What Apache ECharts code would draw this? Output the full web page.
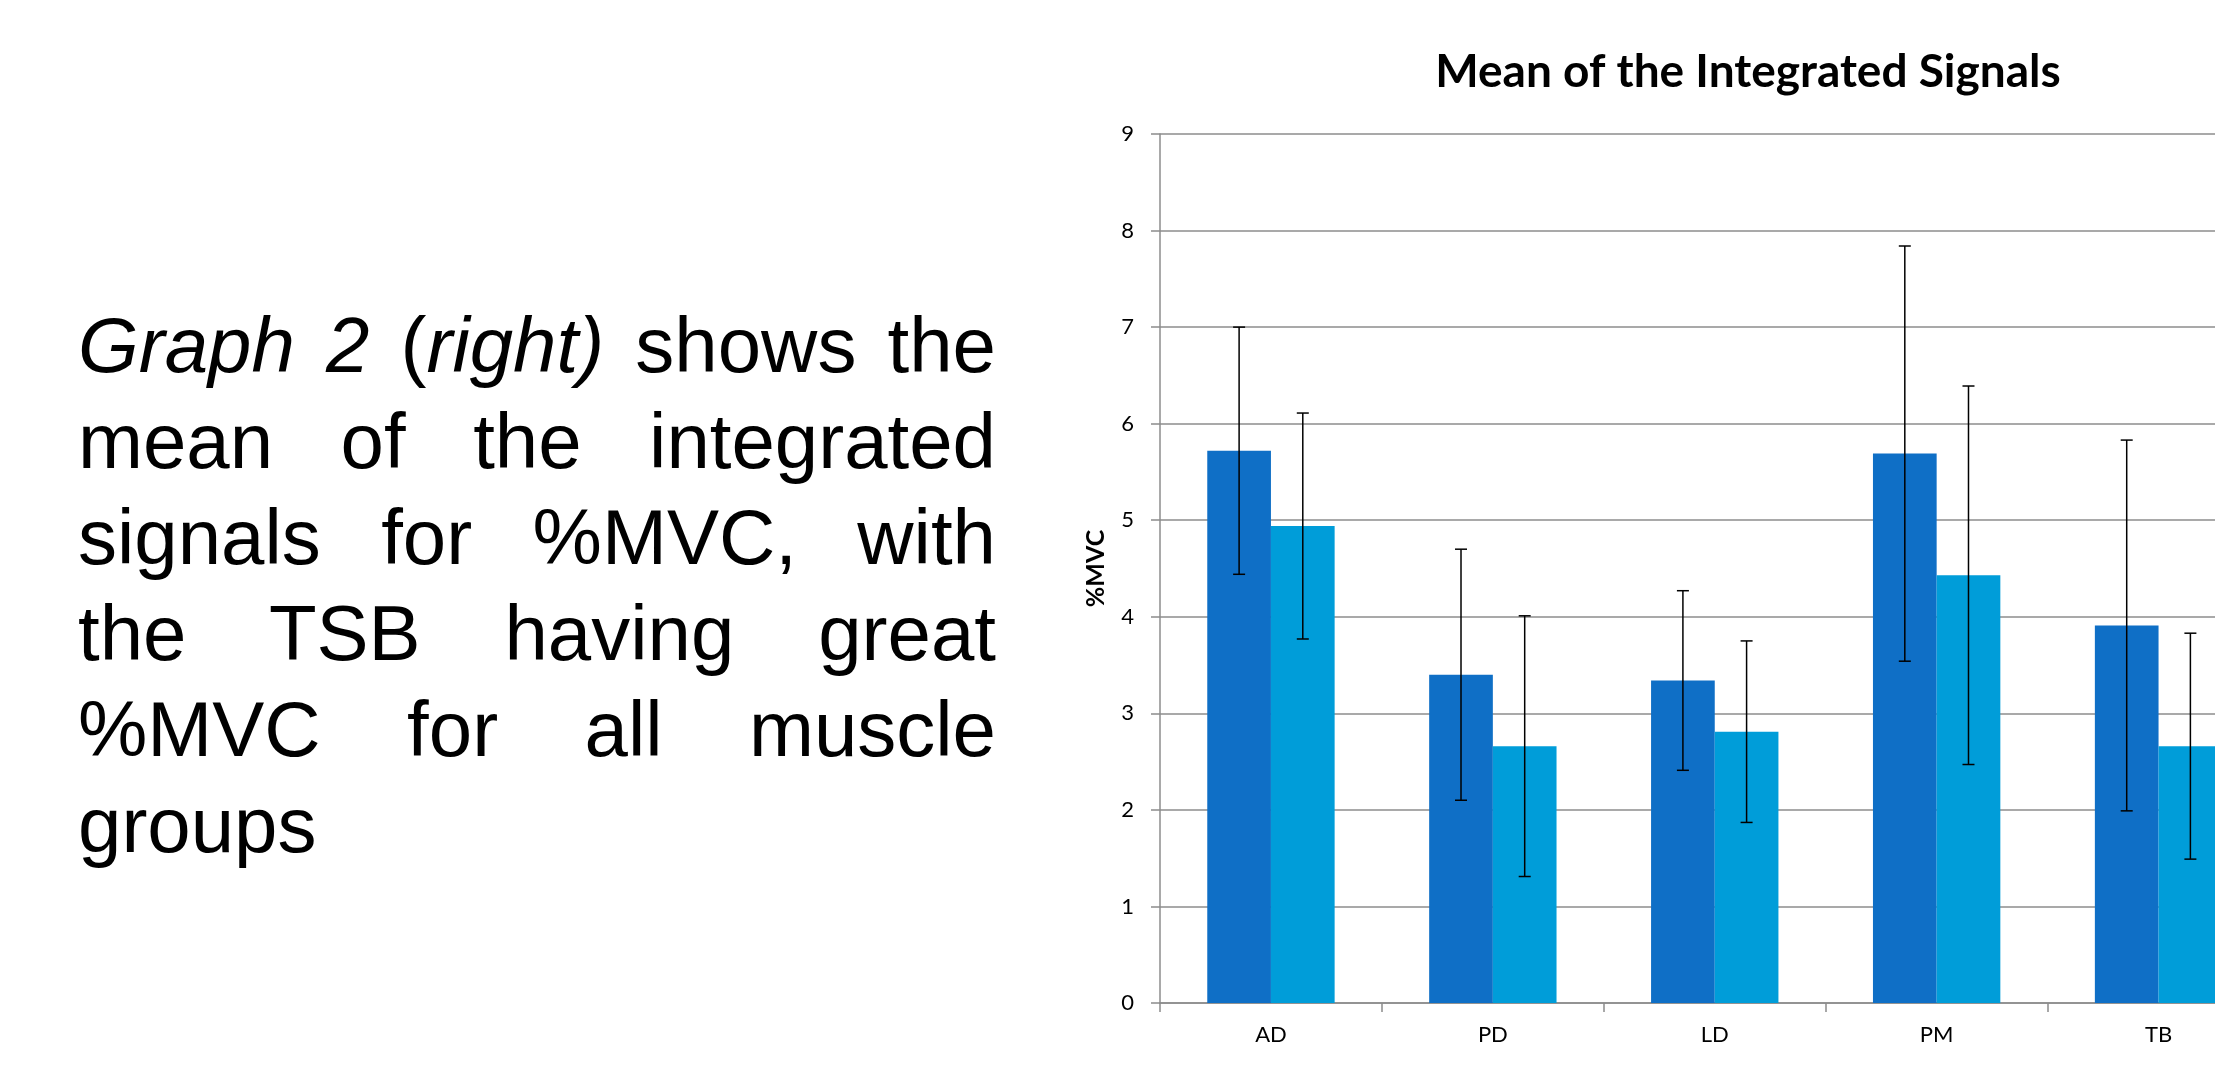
<!DOCTYPE html>
<html>
<head>
<meta charset="utf-8">
<script src="https://cdn.jsdelivr.net/npm/echarts@6/dist/echarts.min.js"></script>
<style>
  html, body { margin: 0; padding: 0; background: #fff; overflow: hidden; width: 2215px; height: 1067px; }
  #chart { position: absolute; left: 0; top: 0; width: 2300px; height: 1067px; }
  #desc { position: absolute; left: 78px; top: 297px; width: 918px; font-family: "Liberation Sans", Arial, sans-serif; font-size: 78px; line-height: 96px; color: #000; }
  #desc div { text-align: justify; text-align-last: justify; white-space: nowrap; }
  #desc div.last { text-align-last: left; }
</style>
</head>
<body>
<div id="chart"></div>
<div id="desc">
  <div><i>Graph 2</i> (<i>right)</i> shows the</div>
  <div>mean of the integrated</div>
  <div>signals for %MVC, with</div>
  <div>the TSB having great</div>
  <div>%MVC for all muscle</div>
  <div class="last">groups</div>
</div>
<script>
const categories = ['AD', 'PD', 'LD', 'PM', 'TB'];
const meanA = [5.72, 3.40, 3.34, 5.69, 3.91];
const sdA   = [1.28, 1.30, 0.93, 2.15, 1.92];
const meanB = [4.94, 2.66, 2.81, 4.43, 2.66];
const sdB   = [1.17, 1.35, 0.94, 1.96, 1.17];
const yTicks = [0, 1, 2, 3, 4, 5, 6, 7, 8, 9];

const CAT_GAP = 0.426;

function errData(mean, sd) {
  return mean.map((m, i) => [i, m - sd[i], m + sd[i]]);
}
function errSeries(mean, sd, side) {
  return {
    type: 'custom',
    z: 10,
    data: errData(mean, sd),
    renderItem: function (params, api) {
      const idx = api.value(0);
      const lo = api.coord([idx, api.value(1)]);
      const hi = api.coord([idx, api.value(2)]);
      const band = api.size([1, 0])[0];
      const bw = band * (1 - CAT_GAP) / 2;
      const x = lo[0] + side * bw / 2;
      const cap = 6;
      const st = { stroke: '#000', lineWidth: 1.5 };
      return {
        type: 'group',
        children: [
          { type: 'line', shape: { x1: x, y1: lo[1], x2: x, y2: hi[1] }, style: st },
          { type: 'line', shape: { x1: x - cap, y1: lo[1], x2: x + cap, y2: lo[1] }, style: st },
          { type: 'line', shape: { x1: x - cap, y1: hi[1], x2: x + cap, y2: hi[1] }, style: st }
        ]
      };
    }
  };
}

const chart = echarts.init(document.getElementById('chart'), null, { renderer: 'canvas' });
chart.setOption({
  animation: false,
  title: {
    text: 'Mean of the Integrated Signals',
    left: 1743,
    textAlign: 'center',
    top: 44,
    textStyle: { fontFamily: 'Lato', fontWeight: 'bold', fontSize: 46, color: '#000' }
  },
  grid: { left: 1160, top: 134, width: 1109.5, height: 869, containLabel: false },
  xAxis: {
    type: 'category',
    data: categories,
    axisLine: { lineStyle: { color: '#8c8c8c', width: 1.5 } },
    axisTick: { show: true, length: 9, lineStyle: { color: '#8c8c8c', width: 1.5 } },
    axisLabel: { margin: 21, fontFamily: 'Lato', fontSize: 22, color: '#000' }
  },
  yAxis: {
    type: 'value',
    min: 0, max: 9, interval: 1,
    name: '%MVC',
    nameLocation: 'middle',
    nameGap: 52,
    nameRotate: 90,
    nameTextStyle: { fontFamily: 'Lato', fontWeight: 'bold', fontSize: 25, color: '#000' },
    axisLine: { show: true, lineStyle: { color: '#8c8c8c', width: 1.5 } },
    axisTick: { show: true, length: 9, lineStyle: { color: '#8c8c8c', width: 1.5 } },
    axisLabel: { margin: 26, fontFamily: 'Lato', fontSize: 22, color: '#000',
      formatter: v => yTicks.includes(v) ? String(v) : '' },
    splitLine: { lineStyle: { color: '#8c8c8c', width: 1.5 } }
  },
  series: [
    { type: 'bar', data: meanA, barGap: '0%', barCategoryGap: (CAT_GAP * 100) + '%',
      itemStyle: { color: '#0F6FC6' } },
    { type: 'bar', data: meanB, barGap: '0%', barCategoryGap: (CAT_GAP * 100) + '%',
      itemStyle: { color: '#009DD9' } },
    errSeries(meanA, sdA, -1),
    errSeries(meanB, sdB, 1)
  ]
});
</script>
</body>
</html>
